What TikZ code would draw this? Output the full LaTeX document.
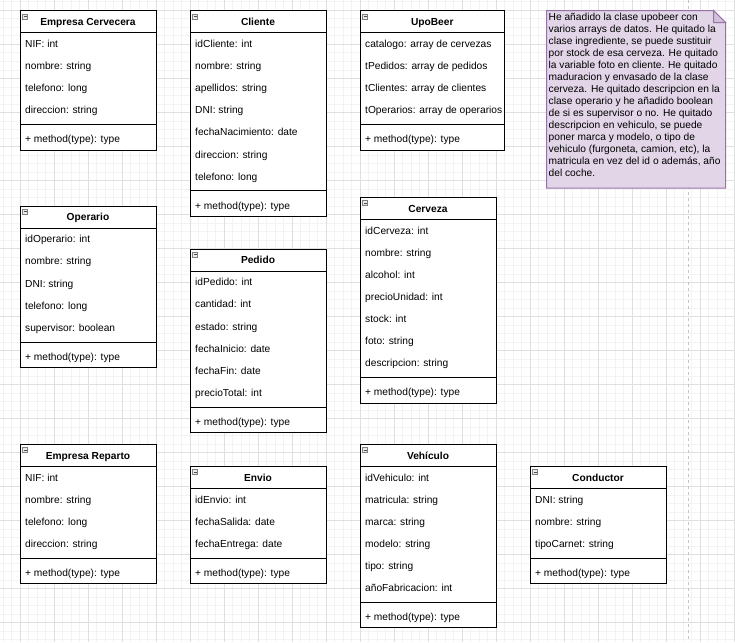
\documentclass[tikz,border=0pt]{standalone}
\usepackage{fontspec}
\setmainfont{Liberation Sans}
\usetikzlibrary{calc, positioning}

\definecolor{notefill}{HTML}{E1D5E7}
\definecolor{notedraw}{HTML}{9673A6}
\definecolor{gridminor}{HTML}{F3F3F3}
\definecolor{gridmajor}{HTML}{DFDFDF}
\definecolor{pagebreak}{HTML}{C4C4C4}

\newcommand{\umlclass}[6]{%
	\node[classhead, minimum width=#4] at (#2, #3) (#1) {#5};
	\draw[iconbox] ($(#1.north west)+(2.7,3.3)$) rectangle ++(5,5);
	\draw[iconbar] ($(#1.north west)+(3.7,5.8)$) -- ++(3,0);
	\foreach \a [count=\n] in {#6} {\xdef\nattr{\n}}
	\node[classbody, minimum width=#4, minimum height={\nattr*22.1pt+3.4pt}] at (#1.south west) (#1-attr) {};
	\foreach \a [count=\i] in {#6}
		\node[attr] at ($(#1-attr.north west)+(5,{(\i-0.5)*22.1})$) (#1-a\i) {\a};
	\node[classbody, minimum width=#4, minimum height=25.5pt] at (#1-attr.south west) (#1-op) {};
	\node[attr] at ($(#1-op.north west)+(5,14.45)$) (#1-m) {+ method(type): type};
}

\begin{document}
\begin{tikzpicture}[x=1pt, y=-1pt, font=\fontsize{10.2pt}{12pt}\selectfont]
					\tikzstyle{classhead} = [draw=black, fill=white, line width=1pt, rectangle, anchor=north west, inner sep=0pt, outer sep=0pt, minimum height=22.1pt, text height=7.3pt, text depth=0pt, font=\fontsize{10.2pt}{12pt}\selectfont\bfseries]
					\tikzstyle{classbody} = [draw=black, fill=white, line width=1pt, rectangle, anchor=north west, inner sep=0pt, outer sep=0pt]
					\tikzstyle{attr} = [anchor=west, inner sep=0pt, text height=7.3pt, text depth=0pt]
					\tikzstyle{iconbox} = [draw=gray, fill=black!8, line width=0.6pt]
					\tikzstyle{iconbar} = [draw=black!70, line width=0.8pt]
					\tikzstyle{notebox} = [draw=notedraw, fill=notefill, line width=1pt]
					\tikzstyle{notetext} = [anchor=north west, align=left, inner sep=0pt]
					
					\useasboundingbox (0,0) rectangle (735,642);
					\fill[white] (0,0) rectangle (735,642);
					
					\foreach \gx in {0,...,86} \draw[gridminor, line width=0.6pt] ({3+\gx*8.5},0) -- ++(0,642);
					\foreach \gy in {0,...,75} \draw[gridminor, line width=0.6pt] (0,{1.8+\gy*8.5}) -- ++(735,0);
					\foreach \gx in {0,...,21} \draw[gridmajor, line width=0.6pt] ({20+\gx*34},0) -- ++(0,642);
					\foreach \gy in {0,...,18} \draw[gridmajor, line width=0.6pt] (0,{10.3+\gy*34}) -- ++(735,0);
					\draw[pagebreak, line width=0.8pt, dash pattern=on 3pt off 3pt] (688,0) -- (688,642);
					
					\umlclass{cervecera}{20}{10.7}{136pt}{Empresa Cervecera}{NIF: int, nombre: string, telefono: long, direccion: string}
					\umlclass{cliente}{190}{10.7}{136pt}{Cliente}{idCliente: int, nombre: string, apellidos: string, DNI: string, fechaNacimiento: date, direccion: string, telefono: long}
					\umlclass{upobeer}{360}{10.7}{144.5pt}{UpoBeer}{catalogo: array de cervezas, tPedidos: array de pedidos, tClientes: array de clientes, tOperarios: array de operarios}
					
					\umlclass{operario}{20}{206}{136pt}{Operario}{idOperario: int, nombre: string, DNI: string, telefono: long, supervisor: boolean}
					\umlclass{pedido}{190}{249}{136pt}{Pedido}{idPedido: int, cantidad: int, estado: string, fechaInicio: date, fechaFin: date, precioTotal: int}
					\umlclass{cerveza}{360}{197.3}{136pt}{Cerveza}{idCerveza: int, nombre: string, alcohol: int, precioUnidad: int, stock: int, foto: string, descripcion: string}
					
					\umlclass{reparto}{20}{444.3}{136pt}{Empresa Reparto}{NIF: int, nombre: string, telefono: long, direccion: string}
					\umlclass{envio}{190}{466.3}{136pt}{Envio}{idEnvio: int, fechaSalida: date, fechaEntrega: date}
					\umlclass{vehiculo}{360}{444.3}{136pt}{Vehículo}{idVehiculo: int, matricula: string, marca: string, modelo: string, tipo: string, añoFabricacion: int}
					\umlclass{conductor}{530}{466.3}{136pt}{Conductor}{DNI: string, nombre: string, tipoCarnet: string}
					
					\coordinate (note) at (546.7, 10.7);
					\draw[notebox] (note) -- ++(167,0) -- ++(12,12) -- ++(0,165.3) -- ++(-179,0) -- cycle;
					\draw[notebox, fill=notefill!80!notedraw] ($(note)+(167,0)$) -- ++(0,12) -- ++(12,0) -- cycle;
					\node[notetext] at (548.5, 12.6) (notetxt) {He añadido la clase upobeer con\\varios arrays de datos. He quitado la\\clase ingrediente, se puede sustituir\\por stock de esa cerveza. He quitado\\la variable foto en cliente. He quitado\\maduracion y envasado de la clase\\cerveza. He quitado descripcion en la\\clase operario y he añadido boolean\\de si es supervisor o no. He quitado\\descripcion en vehiculo, se puede\\poner marca y modelo, o tipo de\\vehiculo (furgoneta, camion, etc), la\\matricula en vez del id o además, año\\del coche.};
				\end{tikzpicture}
\end{document}
